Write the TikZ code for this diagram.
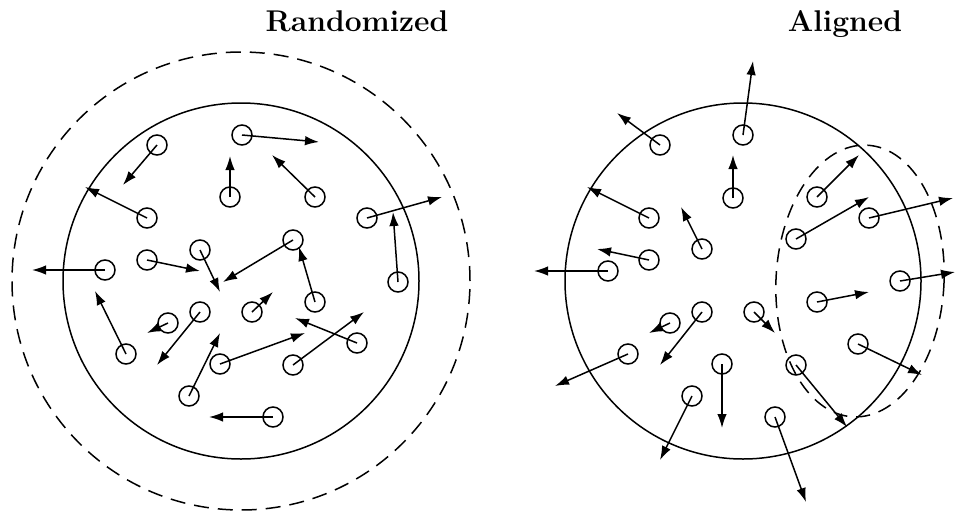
\documentclass[tikz,border=0pt]{standalone}
\usepackage{fontspec}
\usepackage{tikz}
\usetikzlibrary{arrows.meta}

\begin{document}
\begin{tikzpicture}[x=1pt,y=-1pt,
  rim/.style={line width=1.5pt},
  halo/.style={line width=1.5pt,dash pattern=on 15pt off 9pt},
  mol/.style={draw,circle,line width=1.5pt,minimum size=20pt,inner sep=0pt},
  vel/.style={-{Latex[length=14pt,width=9.5pt]},line width=1.5pt},
  ttl/.style={font=\fontsize{30}{36}\selectfont\bfseries,anchor=base,inner sep=0pt}]

  \useasboundingbox (0,0) rectangle (957,514);

  \node[ttl] (tR) at (357,31) {Randomized};
  \node[ttl] (tA) at (845,31) {Aligned};

  % randomized
  \draw[halo] (241,281) circle[radius=229pt];
  \draw[rim] (241,281) circle[radius=178pt];
  \foreach \x/\y/\u/\v [count=\i] in {157/145/123/185, 242/135/319/142,
      230/197/230/156, 315/197/272/155, 147/218/85/187, 367/218/442/197,
      293/240/223/282, 105/270/32/270, 147/260/200/271, 200/250/220/292,
      398/282/393/212, 315/302/299/247, 252/312/273/292, 168/323/147/333,
      200/312/157/365, 126/354/95/291, 357/343/295/318, 220/364/305/333,
      293/365/364/312, 189/396/220/333, 273/417/209/417}{
    \node[mol] (r\i) at (\x,\y) {};
    \coordinate (rv\i) at (\u,\v);
    \draw[vel] (r\i.center) -- (rv\i);
  }

  % aligned
  \draw[rim] (743,281) circle[radius=178pt];
  \draw[halo,dash pattern=on 14pt off 9pt,rotate around={-3:(860,281)}]
    (860,281) ellipse[x radius=84pt,y radius=136pt];
  \foreach \x/\y/\u/\v [count=\i] in {660/145/617/113, 743/135/753/61,
      733/198/733/155, 649/218/587/187, 702/249/681/207, 649/260/597/249,
      608/271/534/271, 817/197/859/155, 869/218/953/198, 796/239/869/197,
      900/281/955/272, 817/302/869/292, 754/312/775/333, 858/344/922/375,
      796/365/847/427, 722/364/722/428, 775/417/806/502, 670/323/649/333,
      702/312/660/365, 628/354/555/386, 692/396/660/460}{
    \node[mol] (a\i) at (\x,\y) {};
    \coordinate (av\i) at (\u,\v);
    \draw[vel] (a\i.center) -- (av\i);
  }
\end{tikzpicture}
\end{document}
